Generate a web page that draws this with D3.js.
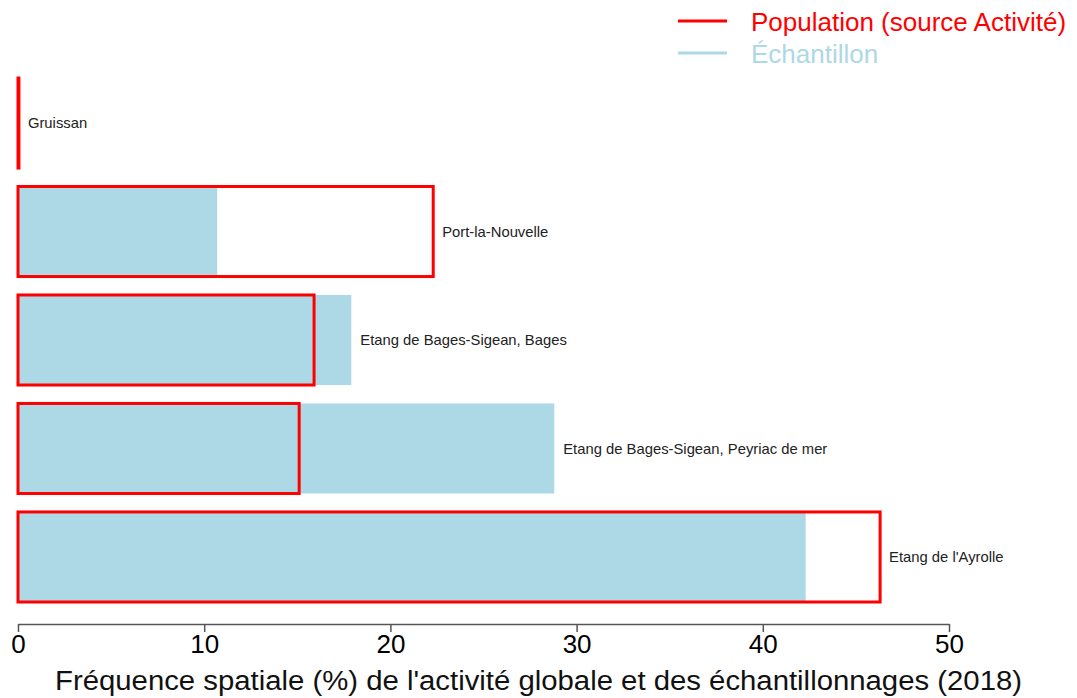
<!DOCTYPE html>
<html>
<head>
<meta charset="utf-8">
<script src="https://cdn.jsdelivr.net/npm/d3@7"></script>
<style>
  body { margin: 0; background: #fff; }
  text { font-family: "Liberation Sans", Arial, sans-serif; }
</style>
</head>
<body>
<div id="chart"></div>
<script>
// sites from top to bottom
var sites = ['Gruissan', 'Port-la-Nouvelle', 'Etang de Bages-Sigean, Bages',
             'Etang de Bages-Sigean, Peyriac de mer', "Etang de l'Ayrolle"];
var population = [0.05, 22.3, 15.9, 15.1, 46.3];
var echantillon = [0, 10.7, 17.9, 28.8, 42.3];
var ticks = [0, 10, 20, 30, 40, 50];

var width = 1077, height = 698;

var svg = d3.select('#chart').append('svg')
    .attr('width', width)
    .attr('height', height);

var x = d3.scaleLinear().domain([0, 50]).range([18, 949]);
var y = d3.scaleBand().domain(sites).range([78, 602])
    .paddingInner(0.17).paddingOuter(0);

var rows = sites.map(function(s, i){
    return {site: s, pop: population[i], ech: echantillon[i]};
});

// sample bars (filled)
svg.selectAll('rect.ech')
    .data(rows)
    .enter().append('rect')
    .attr('class', 'ech')
    .attr('x', x(0))
    .attr('y', function(d){ return y(d.site); })
    .attr('width', function(d){ return x(d.ech) - x(0); })
    .attr('height', y.bandwidth())
    .style('fill', '#add8e6');

// population bars (outline)
svg.selectAll('rect.pop')
    .data(rows)
    .enter().append('rect')
    .attr('class', 'pop')
    .attr('x', x(0))
    .attr('y', function(d){ return y(d.site); })
    .attr('width', function(d){ return x(d.pop) - x(0); })
    .attr('height', y.bandwidth())
    .style('fill', 'none')
    .style('stroke', '#ff0000')
    .style('stroke-width', 3);

// labels at the end of the longest bar
svg.selectAll('text.lab')
    .data(rows)
    .enter().append('text')
    .attr('class', 'lab')
    .attr('x', function(d){ return x(Math.max(d.pop, d.ech)) + 9; })
    .attr('y', function(d){ return y(d.site) + y.bandwidth() / 2; })
    .attr('dy', '0.35em')
    .style('font-size', '14.8px')
    .style('fill', '#222')
    .text(function(d){ return d.site; });

// x axis
var axis = svg.append('g')
    .attr('transform', 'translate(0,624)')
    .call(d3.axisBottom(x).tickValues(ticks).tickSize(8).tickPadding(3).tickSizeOuter(0));
axis.select('.domain').style('stroke', '#555').style('stroke-width', 1.5);
axis.selectAll('.tick line').style('stroke', '#555').style('stroke-width', 1.5);
axis.selectAll('.tick text')
    .style('font-size', '26px')
    .style('font-family', '"Liberation Sans", Arial, sans-serif')
    .style('fill', '#000');

svg.append('text')
    .attr('x', (55 + 1022) / 2)
    .attr('y', 690)
    .attr('text-anchor', 'middle')
    .attr('textLength', 967)
    .attr('lengthAdjust', 'spacingAndGlyphs')
    .style('font-size', '27px')
    .style('fill', '#111')
    .text("Fréquence spatiale (%) de l'activité globale et des échantillonnages (2018)");

// legend
var legend = [
    {name: 'Population (source Activité)', color: '#ff0000', y: 21},
    {name: 'Échantillon', color: '#add8e6', y: 53}
];
var lg = svg.selectAll('g.legend')
    .data(legend)
    .enter().append('g')
    .attr('class', 'legend');
lg.append('line')
    .attr('x1', 678).attr('x2', 727)
    .attr('y1', function(d){ return d.y; })
    .attr('y2', function(d){ return d.y; })
    .style('stroke', function(d){ return d.color; })
    .style('stroke-width', 3);
lg.append('text')
    .attr('x', 751)
    .attr('y', function(d){ return d.y + 1; })
    .attr('dy', '0.35em')
    .style('font-size', '26px')
    .style('fill', function(d){ return d.color; })
    .text(function(d){ return d.name; });
</script>
</body>
</html>
